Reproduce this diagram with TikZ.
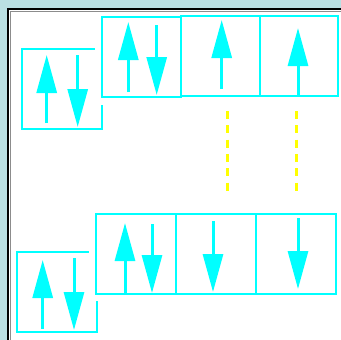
\documentclass[tikz,border=0pt]{standalone}
\usetikzlibrary{arrows.meta}
\definecolor{frameblue}{RGB}{186,223,226}
\definecolor{spincyan}{RGB}{0,255,255}
\definecolor{guideyellow}{RGB}{255,255,0}
\tikzset{
  cellbox/.style={draw=spincyan, line width=2.2pt},
  mask/.style={fill=white, draw=none},
  spinup/.style={draw=spincyan, line width=3pt, -{Triangle[length=38pt,width=20pt]}, spincyan},
  spindown/.style={draw=spincyan, line width=3pt, -{Triangle[length=38pt,width=20pt]}, spincyan},
  guide/.style={draw=guideyellow, line width=3pt, dash pattern=on 8pt off 6.3pt},
}
\begin{document}
\begin{tikzpicture}[x=1pt,y=-1pt]
  \useasboundingbox (0,0) rectangle (341,340);
  % outer frame and white panel
  \fill[frameblue] (0,0) rectangle (341,340);
  \fill[white] (8,9) rectangle (341,340);
  \draw[black!45, line width=1pt] (10,340) -- (10,11) -- (341,11);
  \draw[black, line width=2pt] (8,340) -- (8,9.4) -- (341,9.4);

  % ---- upper configuration ----
  \node[cellbox, minimum size=80pt, inner sep=0pt] (ua) at (62,89) {};
  \draw[spinup]   (46.7,123) -- (46.7,55);
  \draw[spindown] (77.7,55) -- (77.7,127);
  \fill[mask] (95,12.5) rectangle (341,105);
  \node[cellbox, minimum width=79pt, minimum height=80pt, inner sep=0pt] (ub) at (141.5,57) {};
  \node[cellbox, minimum width=79pt, minimum height=80pt, inner sep=0pt] (uc) at (220.5,55.7) {};
  \node[cellbox, minimum width=78pt, minimum height=80pt, inner sep=0pt] (ud) at (299,55.7) {};
  \draw[spinup]   (128.3,92) -- (128.3,22);
  \draw[spindown] (156.7,25) -- (156.7,95);
  \draw[spinup]   (221.7,89) -- (221.7,20);
  \draw[spinup]   (298,96) -- (298,28);

  % ---- guides ----
  \draw[guide] (227.7,111) -- (227.7,192);
  \draw[guide] (296.3,111) -- (296.3,192);

  % ---- lower configuration ----
  \node[cellbox, minimum size=80pt, inner sep=0pt] (la) at (57,292) {};
  \draw[spinup]   (42.7,329) -- (42.7,260);
  \draw[spindown] (74,258) -- (74,330);
  \fill[mask] (89,207) rectangle (341,301);
  \node[cellbox, minimum width=80pt, minimum height=80pt, inner sep=0pt] (lb) at (136,254) {};
  \node[cellbox, minimum width=80pt, minimum height=80pt, inner sep=0pt] (lc) at (216,254) {};
  \node[cellbox, minimum width=80pt, minimum height=80pt, inner sep=0pt] (ld) at (296,254) {};
  \draw[spinup]   (125,293) -- (125,223);
  \draw[spindown] (152,224) -- (152,293);
  \draw[spindown] (213,221) -- (213,292);
  \draw[spindown] (298,218) -- (298,289);
\end{tikzpicture}
\end{document}
